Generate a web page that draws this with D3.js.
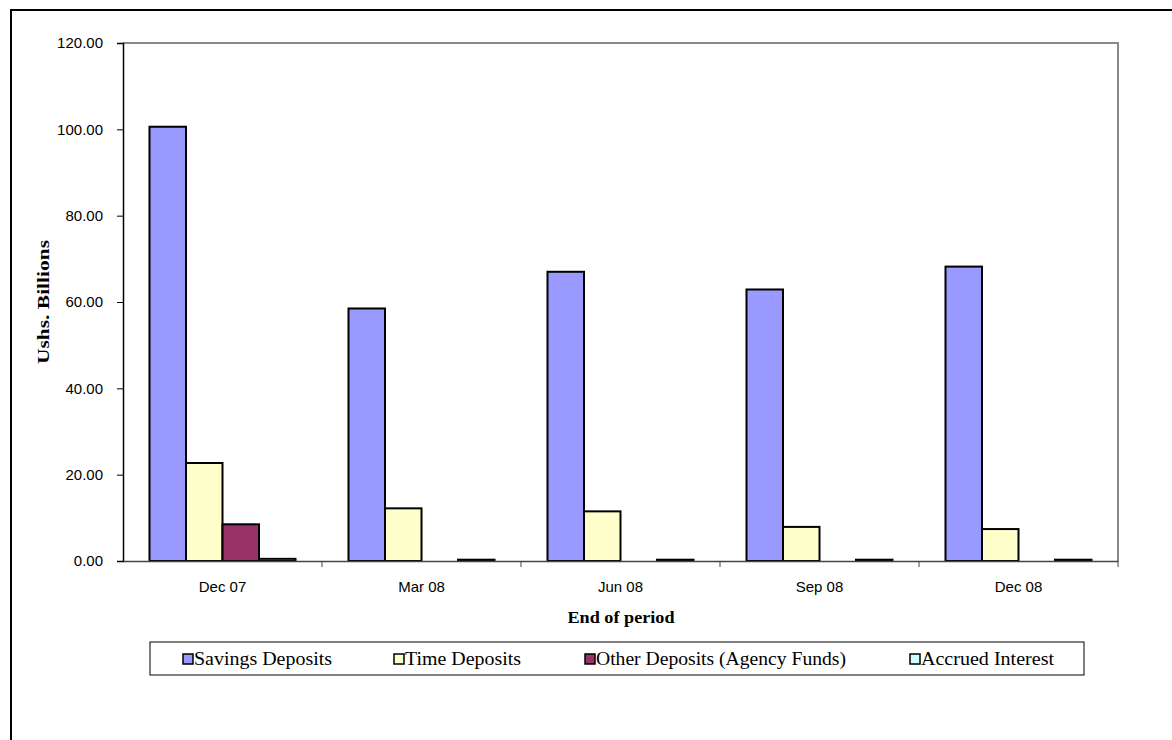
<!DOCTYPE html>
<html>
<head>
<meta charset="utf-8">
<script src="https://cdn.jsdelivr.net/npm/d3@7"></script>
<style>
  html, body { margin: 0; padding: 0; background: #fff; }
  svg { display: block; }
</style>
</head>
<body>
<svg id="chart" width="1172" height="740"></svg>
<script>
// Deposit balances by period end (Ushs. billions)
const periods = ["Dec 07", "Mar 08", "Jun 08", "Sep 08", "Dec 08"];
const seriesNames = ["Savings Deposits", "Time Deposits", "Other Deposits (Agency Funds)", "Accrued Interest"];
const savingsDeposits = [100.6, 58.5, 67.0, 62.9, 68.2];
const timeDeposits = [22.7, 12.2, 11.5, 7.9, 7.4];
const otherDeposits = [8.5, 0, 0, 0, 0];
const accruedInterest = [0.5, 0.3, 0.3, 0.3, 0.3];
const yTicks = [0, 20, 40, 60, 80, 100, 120];
const seriesColors = ["#9999FF", "#FFFFCC", "#993366", "#CCFFFF"];

const seriesValues = [savingsDeposits, timeDeposits, otherDeposits, accruedInterest];

const svg = d3.select("#chart");
const plot = { left: 123, top: 43, right: 1118, bottom: 561 };
const serif = "Liberation Serif, Times New Roman, serif";
const sans = "Liberation Sans, Arial, sans-serif";

// Outer chart frame (only left and top edges fall inside the page)
svg.append("path")
  .attr("d", `M11,740 V10 H1172`)
  .attr("fill", "none").attr("stroke", "#000").attr("stroke-width", 2);

const x = d3.scaleBand().domain(periods).range([plot.left, plot.right]).paddingInner(0).paddingOuter(0);
const xInner = d3.scaleBand().domain(d3.range(seriesNames.length))
  .range([0, x.bandwidth()]).paddingInner(0).paddingOuter(0.726);
const y = d3.scaleLinear().domain([0, 120]).range([plot.bottom, plot.top]);

// Plot area top/right edges
svg.append("path")
  .attr("d", `M${plot.left},${plot.top} H${plot.right} V${plot.bottom}`)
  .attr("fill", "none").attr("stroke", "#888").attr("stroke-width", 2);

// Bars
const groups = svg.append("g").selectAll("g")
  .data(periods).join("g")
  .attr("transform", d => `translate(${x(d)},0)`);

groups.selectAll("rect")
  .data((p, i) => seriesValues.map((vals, s) => ({ s, v: vals[i] })).filter(d => d.v > 0))
  .join("rect")
  .attr("x", d => xInner(d.s))
  .attr("width", xInner.bandwidth())
  .attr("y", d => y(d.v))
  .attr("height", d => Math.max(0, y(0) - y(d.v)))
  .attr("fill", d => seriesColors[d.s])
  .attr("stroke", "#000")
  .attr("stroke-width", 2);

// Y axis
const yAxis = svg.append("g")
  .attr("transform", `translate(${plot.left},0)`)
  .call(d3.axisLeft(y).tickValues(yTicks).tickFormat(d3.format(".2f")).tickSize(6).tickPadding(14));
yAxis.select(".domain").attr("stroke", "#000").attr("stroke-width", 1.5);
yAxis.selectAll(".tick line").attr("stroke", "#000");
yAxis.selectAll("text")
  .attr("font-family", sans)
  .attr("font-size", 15).attr("fill", "#000");

// X axis
const xAxis = svg.append("g")
  .attr("transform", `translate(0,${plot.bottom})`)
  .call(d3.axisBottom(x).tickSize(0).tickPadding(20));
xAxis.select(".domain").attr("stroke", "#444").attr("stroke-width", 1.5);
xAxis.selectAll("text")
  .attr("font-family", sans)
  .attr("font-size", 15).attr("fill", "#000");

// Category separator ticks
svg.append("g").selectAll("line")
  .data(periods)
  .join("line")
  .attr("x1", d => x(d) + x.bandwidth())
  .attr("x2", d => x(d) + x.bandwidth())
  .attr("y1", plot.bottom).attr("y2", plot.bottom + 6)
  .attr("stroke", "#444").attr("stroke-width", 1);

// Axis titles
svg.append("text")
  .attr("x", 621).attr("y", 623)
  .attr("text-anchor", "middle")
  .attr("font-family", serif)
  .attr("font-weight", "bold").attr("font-size", 17)
  .attr("textLength", 107).attr("lengthAdjust", "spacingAndGlyphs")
  .text("End of period");

svg.append("text")
  .attr("transform", `translate(49,${(plot.top + plot.bottom) / 2}) rotate(-90)`)
  .attr("text-anchor", "middle")
  .attr("font-family", serif)
  .attr("font-weight", "bold").attr("font-size", 16)
  .attr("textLength", 124).attr("lengthAdjust", "spacingAndGlyphs")
  .text("Ushs. Billions");

// Legend
const legend = svg.append("g");
legend.append("rect")
  .attr("x", 150).attr("y", 642).attr("width", 934).attr("height", 33)
  .attr("fill", "#fff").attr("stroke", "#000").attr("stroke-width", 1);

const legendX = [183, 394, 585, 910];
const legendTextWidth = [138, 116, 250, 133];
const items = legend.selectAll("g.item")
  .data(seriesNames).join("g").attr("class", "item")
  .attr("transform", (d, i) => `translate(${legendX[i]},659)`);
items.append("rect")
  .attr("x", 0).attr("y", -5).attr("width", 10).attr("height", 10)
  .attr("fill", (d, i) => seriesColors[i])
  .attr("stroke", "#000").attr("stroke-width", 1.5);
items.append("text")
  .attr("x", 11).attr("y", 6)
  .attr("font-family", serif)
  .attr("font-size", 18)
  .attr("textLength", (d, i) => legendTextWidth[i]).attr("lengthAdjust", "spacingAndGlyphs")
  .text(d => d);
</script>
</body>
</html>
